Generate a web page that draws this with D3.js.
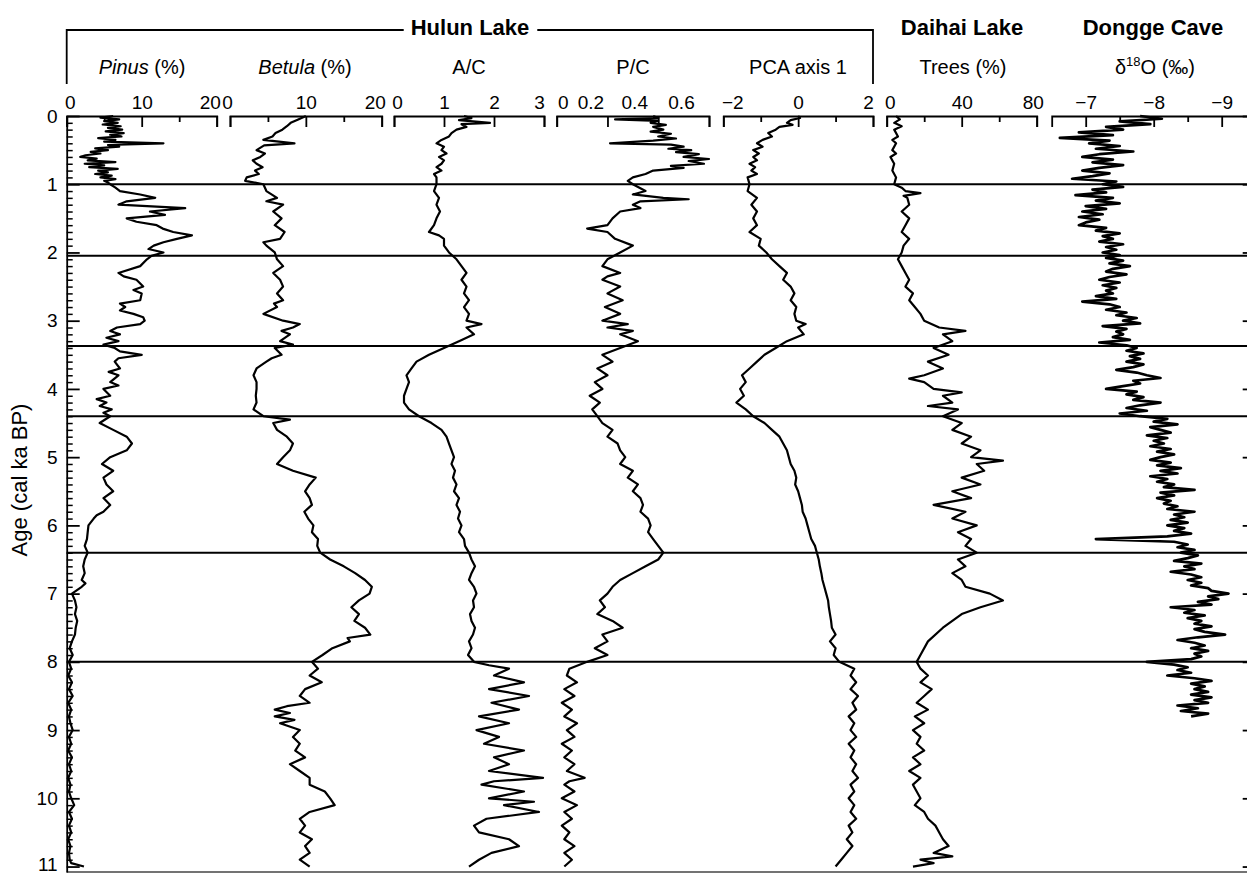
<!DOCTYPE html>
<html>
<head>
<meta charset="utf-8">
<script src="https://cdn.jsdelivr.net/npm/d3@7"></script>
<style>
  body { margin: 0; background: #fff; }
  svg text { font-family: "Liberation Sans", Arial, Helvetica, sans-serif; fill: #000; }
</style>
</head>
<body>
<div id="chart-area"></div>
<script>
// ---- data: [age (cal ka BP), value] ----
const pinus = [[0,6.2],[0.025,4.5],[0.05,7.0],[0.075,5.0],[0.1,6.8],[0.125,4.8],[0.15,7.2],[0.175,5.5],[0.2,7.4],[0.225,5.2],[0.25,7.6],[0.275,5.8],[0.3,7.3],[0.325,4.2],[0.35,6.5],[0.375,5.0],[0.4,12.9],[0.425,5.5],[0.45,7.0],[0.475,3.8],[0.5,5.5],[0.525,3.2],[0.55,4.5],[0.575,2.5],[0.6,1.8],[0.625,4.0],[0.65,2.8],[0.675,6.5],[0.7,2.4],[0.725,5.0],[0.75,3.0],[0.775,6.8],[0.8,4.2],[0.825,5.5],[0.85,3.8],[0.875,6.0],[0.9,4.5],[0.925,6.5],[0.95,5.0],[0.975,5.5],[1.0,5.8],
  [1.05,6.5],[1.1,7.1],[1.15,9.8],[1.2,11.8],[1.25,8.0],[1.3,6.9],[1.35,15.8],[1.4,11.1],[1.45,13.1],[1.5,8.0],[1.55,9.3],[1.6,12.0],[1.65,12.8],[1.7,14.2],[1.75,16.7],[1.8,14.7],[1.85,12.9],[1.9,11.6],[1.95,10.9],[2.0,12.9],[2.05,11.3],[2.1,10.7],[2.2,9.8],[2.3,6.9],[2.35,7.6],[2.4,9.3],[2.5,10.2],[2.55,8.9],[2.6,10.0],[2.7,9.8],[2.75,7.1],[2.8,7.8],[2.85,7.1],[2.9,8.9],[2.95,10.2],[3.0,10.4],[3.05,9.8],[3.1,6.7],[3.15,5.8],[3.2,7.1],[3.25,5.3],[3.3,6.9],[3.35,4.9],[3.4,6.4],[3.45,7.1],[3.5,10.0],[3.55,6.9],[3.6,6.4],[3.7,7.1],[3.75,5.6],[3.8,6.9],[3.9,5.8],[3.95,6.9],[4.0,4.9],[4.1,5.8],[4.15,4.0],[4.2,5.3],[4.25,4.4],[4.3,6.0],[4.35,4.9],[4.4,5.8],[4.5,4.4],[4.6,6.2],[4.7,8.0],[4.8,8.7],[4.9,8.0],[5.0,5.8],[5.1,4.7],[5.2,6.2],[5.3,4.9],[5.4,5.3],[5.5,6.2],[5.6,4.9],[5.7,5.8],[5.8,4.9],[5.85,4.0],[5.9,3.6],[6.0,2.9],[6.1,2.8],[6.2,2.7],[6.3,2.4],[6.4,2.8],[6.5,2.4],[6.6,2.2],[6.7,2.4],[6.8,2.0],[6.85,2.5],[6.9,2.0],[7.0,0.7],[7.1,1.1],[7.2,1.3],[7.3,1.1],[7.4,1.4],[7.5,1.2],[7.6,1.1],[7.7,0.7],[7.8,0.4],[7.9,0.8],[8.0,0.3],[8.1,0.6],[8.2,0.2],[8.3,0.7],[8.4,0.3],[8.5,0.8],[8.6,0.2],[8.7,0.6],[8.8,0.3],[8.9,0.5],[9.0,0.8],[9.1,0.3],[9.2,0.6],[9.3,0.2],[9.4,0.7],[9.5,0.3],[9.6,0.6],[9.7,0.2],[9.8,0.5],[9.9,0.3],[10.0,0.6],[10.1,1.0],[10.2,0.3],[10.3,0.7],[10.4,0.3],[10.5,0.6],[10.6,0.2],[10.7,0.5],[10.8,0.3],[10.9,0.4],[10.95,0.6],[11.0,2.3]];

const betula = [[0,10.0],[0.05,9.0],[0.1,8.0],[0.15,7.5],[0.2,6.9],[0.25,6.0],[0.3,5.6],[0.35,4.4],[0.4,8.5],[0.43,4.5],[0.5,3.5],[0.55,4.6],[0.6,4.0],[0.65,3.0],[0.7,3.5],[0.75,4.3],[0.8,3.3],[0.85,3.8],[0.9,2.2],[0.95,2.0],[1.0,4.4],[1.1,4.8],[1.2,6.2],[1.25,4.8],[1.3,7.0],[1.4,5.7],[1.5,6.8],[1.6,5.9],[1.7,7.2],[1.8,6.6],[1.85,4.4],[1.9,4.8],[2.0,5.9],[2.1,6.2],[2.2,7.0],[2.3,5.7],[2.4,6.6],[2.5,7.0],[2.6,6.2],[2.7,7.0],[2.75,5.8],[2.8,6.2],[2.9,4.4],[3.0,7.0],[3.05,9.2],[3.1,8.3],[3.15,6.8],[3.2,7.9],[3.3,6.6],[3.35,8.3],[3.4,5.9],[3.5,6.8],[3.55,5.5],[3.6,4.8],[3.7,3.5],[3.8,3.1],[3.9,3.5],[4.0,3.5],[4.1,3.4],[4.2,3.5],[4.3,3.1],[4.4,4.4],[4.45,7.9],[4.5,5.7],[4.6,6.2],[4.7,7.5],[4.8,8.3],[4.9,7.9],[5.0,7.0],[5.1,6.2],[5.2,8.3],[5.3,11.3],[5.4,10.5],[5.5,9.9],[5.6,10.5],[5.7,10.8],[5.8,9.8],[5.9,10.3],[6.0,11.0],[6.1,10.8],[6.2,11.6],[6.3,11.5],[6.4,11.9],[6.5,13.2],[6.6,15.0],[6.7,16.5],[6.8,17.8],[6.9,18.7],[7.0,18.4],[7.1,17.0],[7.2,16.0],[7.3,17.0],[7.4,16.4],[7.5,17.8],[7.6,18.5],[7.65,15.5],[7.7,15.8],[7.8,13.5],[7.9,12.2],[8.0,10.8],[8.1,11.6],[8.2,10.5],[8.3,12.1],[8.4,9.9],[8.5,9.2],[8.6,10.5],[8.65,7.5],[8.7,5.9],[8.75,7.9],[8.8,5.9],[8.85,8.5],[8.9,6.6],[9.0,9.2],[9.1,8.3],[9.2,9.2],[9.3,8.6],[9.4,9.9],[9.5,7.9],[9.6,9.2],[9.7,10.5],[9.8,10.5],[9.9,12.5],[10.0,13.2],[10.1,13.8],[10.2,10.5],[10.3,9.2],[10.4,9.9],[10.5,9.2],[10.6,10.8],[10.7,9.9],[10.8,10.5],[10.9,9.2],[11.0,10.5]];

const acRatio = [[0,1.4],[0.03,1.55],[0.06,1.3],[0.1,1.92],[0.12,1.35],[0.16,1.45],[0.2,1.25],[0.25,1.15],[0.3,1.1],[0.35,0.95],[0.4,0.85],[0.45,1.0],[0.5,0.95],[0.55,1.05],[0.6,0.9],[0.65,1.0],[0.7,0.95],[0.75,0.85],[0.8,0.95],[0.85,0.8],[0.9,0.85],[1.0,0.85],[1.1,0.8],[1.2,0.9],[1.3,0.85],[1.4,0.92],[1.5,0.85],[1.6,0.8],[1.7,0.7],[1.75,0.9],[1.8,1.0],[1.9,1.0],[2.0,1.1],[2.1,1.25],[2.2,1.35],[2.3,1.45],[2.4,1.35],[2.5,1.45],[2.6,1.4],[2.7,1.5],[2.8,1.4],[2.9,1.5],[3.0,1.45],[3.05,1.75],[3.1,1.45],[3.2,1.6],[3.3,1.3],[3.4,1.0],[3.5,0.7],[3.6,0.45],[3.7,0.35],[3.8,0.25],[3.9,0.3],[4.0,0.25],[4.1,0.2],[4.2,0.2],[4.3,0.3],[4.4,0.5],[4.5,0.75],[4.6,0.95],[4.7,1.05],[4.8,1.1],[4.9,1.15],[5.0,1.2],[5.1,1.15],[5.2,1.22],[5.3,1.18],[5.4,1.25],[5.5,1.2],[5.6,1.3],[5.7,1.25],[5.8,1.32],[5.9,1.28],[6.0,1.35],[6.1,1.3],[6.2,1.4],[6.3,1.42],[6.4,1.5],[6.5,1.55],[6.6,1.62],[6.7,1.55],[6.8,1.5],[6.9,1.6],[7.0,1.65],[7.1,1.58],[7.2,1.6],[7.3,1.52],[7.4,1.55],[7.5,1.62],[7.6,1.58],[7.7,1.5],[7.8,1.55],[7.9,1.48],[8.0,1.6],[8.05,1.9],[8.1,2.3],[8.2,2.0],[8.3,2.6],[8.4,1.9],[8.5,2.7],[8.6,1.95],[8.7,2.5],[8.8,1.7],[8.9,2.3],[9.0,1.65],[9.1,2.1],[9.2,1.8],[9.3,2.6],[9.4,2.0],[9.5,2.3],[9.6,1.9],[9.7,2.98],[9.75,2.0],[9.8,1.75],[9.9,2.6],[10.0,1.9],[10.05,2.8],[10.1,2.2],[10.2,2.9],[10.3,1.85],[10.4,1.6],[10.5,1.7],[10.6,2.3],[10.7,2.5],[10.8,1.95],[10.9,1.7],[11.0,1.5]];

const pcRatio = [[0,0.38],[0.03,0.4],[0.05,0.23],[0.07,0.4],[0.1,0.37],[0.13,0.43],[0.16,0.38],[0.2,0.42],[0.23,0.37],[0.26,0.45],[0.3,0.4],[0.33,0.47],[0.36,0.38],[0.4,0.21],[0.42,0.45],[0.45,0.5],[0.48,0.44],[0.5,0.53],[0.53,0.47],[0.56,0.56],[0.6,0.5],[0.63,0.6],[0.66,0.52],[0.7,0.58],[0.73,0.45],[0.76,0.5],[0.8,0.38],[0.85,0.35],[0.9,0.3],[0.95,0.28],[1.0,0.3],[1.1,0.35],[1.15,0.3],[1.2,0.42],[1.22,0.52],[1.25,0.33],[1.3,0.3],[1.35,0.33],[1.4,0.25],[1.5,0.22],[1.6,0.2],[1.65,0.12],[1.7,0.2],[1.8,0.23],[1.9,0.3],[2.0,0.25],[2.1,0.2],[2.2,0.18],[2.3,0.25],[2.35,0.2],[2.4,0.18],[2.5,0.25],[2.6,0.2],[2.7,0.26],[2.8,0.19],[2.9,0.25],[3.0,0.18],[3.05,0.28],[3.1,0.2],[3.15,0.3],[3.2,0.25],[3.3,0.32],[3.4,0.25],[3.5,0.18],[3.6,0.22],[3.7,0.16],[3.8,0.2],[3.9,0.15],[4.0,0.18],[4.1,0.13],[4.2,0.17],[4.3,0.14],[4.4,0.16],[4.5,0.18],[4.6,0.22],[4.7,0.2],[4.8,0.24],[4.9,0.25],[5.0,0.27],[5.1,0.25],[5.2,0.3],[5.3,0.28],[5.4,0.32],[5.5,0.3],[5.6,0.33],[5.7,0.34],[5.8,0.33],[5.9,0.36],[6.0,0.37],[6.1,0.36],[6.2,0.38],[6.3,0.4],[6.4,0.42],[6.5,0.4],[6.6,0.35],[6.7,0.3],[6.8,0.25],[6.9,0.22],[7.0,0.2],[7.1,0.17],[7.2,0.19],[7.3,0.16],[7.4,0.22],[7.5,0.26],[7.6,0.18],[7.7,0.2],[7.8,0.15],[7.9,0.2],[8.0,0.12],[8.1,0.05],[8.2,0.04],[8.3,0.08],[8.4,0.03],[8.5,0.07],[8.6,0.02],[8.7,0.06],[8.8,0.03],[8.9,0.08],[9.0,0.04],[9.1,0.07],[9.2,0.02],[9.3,0.06],[9.4,0.03],[9.5,0.07],[9.6,0.04],[9.7,0.11],[9.75,0.05],[9.8,0.03],[9.9,0.07],[10.0,0.02],[10.1,0.08],[10.2,0.03],[10.3,0.06],[10.4,0.02],[10.5,0.05],[10.6,0.03],[10.7,0.07],[10.8,0.03],[10.9,0.06],[11.0,0.03]];

const pcaAxis1 = [[0,0.0],[0.03,0.05],[0.06,-0.2],[0.1,-0.3],[0.13,-0.15],[0.16,-0.5],[0.2,-0.6],[0.25,-0.8],[0.3,-0.7],[0.35,-0.95],[0.4,-1.1],[0.45,-0.95],[0.5,-1.2],[0.55,-1.05],[0.6,-1.2],[0.65,-1.1],[0.7,-1.3],[0.75,-1.15],[0.8,-1.25],[0.85,-1.1],[0.9,-1.35],[1.0,-1.3],[1.1,-1.35],[1.2,-1.1],[1.3,-1.25],[1.4,-1.1],[1.5,-1.2],[1.6,-1.1],[1.7,-1.3],[1.8,-1.0],[1.9,-1.05],[2.0,-0.85],[2.1,-0.7],[2.2,-0.5],[2.3,-0.3],[2.4,-0.4],[2.5,-0.2],[2.6,-0.1],[2.7,-0.2],[2.8,-0.05],[2.9,-0.1],[3.0,-0.05],[3.05,0.2],[3.1,0.0],[3.2,0.15],[3.3,-0.3],[3.4,-0.6],[3.5,-0.9],[3.6,-1.1],[3.7,-1.3],[3.8,-1.5],[3.9,-1.4],[4.0,-1.55],[4.1,-1.45],[4.2,-1.65],[4.3,-1.4],[4.4,-1.2],[4.5,-0.9],[4.6,-0.7],[4.7,-0.5],[4.8,-0.4],[4.9,-0.3],[5.0,-0.25],[5.1,-0.2],[5.2,-0.1],[5.3,-0.05],[5.4,-0.08],[5.5,0.0],[5.6,0.05],[5.7,0.1],[5.8,0.12],[5.9,0.2],[6.0,0.25],[6.1,0.3],[6.2,0.35],[6.3,0.45],[6.4,0.5],[6.5,0.55],[6.6,0.58],[6.7,0.62],[6.8,0.65],[6.9,0.7],[7.0,0.75],[7.1,0.8],[7.2,0.82],[7.3,0.85],[7.4,0.88],[7.5,0.9],[7.6,1.0],[7.7,0.85],[7.8,1.0],[7.9,0.95],[8.0,1.1],[8.1,1.5],[8.2,1.4],[8.3,1.55],[8.4,1.4],[8.5,1.6],[8.6,1.45],[8.7,1.55],[8.8,1.35],[8.9,1.5],[9.0,1.4],[9.1,1.55],[9.2,1.35],[9.3,1.5],[9.4,1.4],[9.5,1.55],[9.6,1.45],[9.7,1.6],[9.8,1.4],[9.9,1.5],[10.0,1.35],[10.1,1.5],[10.2,1.4],[10.3,1.55],[10.4,1.35],[10.5,1.45],[10.6,1.3],[10.7,1.45],[10.8,1.3],[10.9,1.15],[11.0,1.0]];

const daihaiTrees = [[0,5],[0.05,7],[0.1,4],[0.15,8],[0.2,4],[0.3,6],[0.35,3],[0.4,5],[0.5,3],[0.55,5],[0.6,2],[0.7,4],[0.8,3],[0.9,5],[1.0,4],[1.05,8],[1.1,10],[1.13,18],[1.17,9],[1.2,11],[1.3,12],[1.4,8],[1.5,12],[1.6,10],[1.7,8],[1.8,12],[1.9,9],[2.0,8],[2.1,6],[2.2,8],[2.3,10],[2.4,12],[2.5,10],[2.6,14],[2.7,12],[2.8,15],[2.9,18],[3.0,20],[3.1,28],[3.15,42],[3.2,30],[3.3,35],[3.4,25],[3.5,33],[3.6,22],[3.7,30],[3.8,20],[3.85,12],[3.9,20],[4.0,25],[4.05,40],[4.1,30],[4.2,35],[4.25,22],[4.3,38],[4.4,30],[4.5,40],[4.6,35],[4.7,45],[4.8,40],[4.9,50],[5.0,45],[5.05,62],[5.1,48],[5.2,52],[5.3,40],[5.4,50],[5.5,35],[5.6,45],[5.7,25],[5.8,42],[5.9,35],[6.0,48],[6.1,38],[6.2,45],[6.3,42],[6.4,48],[6.5,38],[6.6,42],[6.7,35],[6.8,40],[6.9,42],[7.0,55],[7.1,62],[7.2,50],[7.3,40],[7.5,30],[7.7,22],[7.9,18],[8.0,16],[8.1,18],[8.2,22],[8.3,18],[8.4,24],[8.5,20],[8.6,16],[8.7,22],[8.8,15],[8.9,20],[9.0,14],[9.1,18],[9.2,16],[9.3,20],[9.4,14],[9.5,18],[9.6,12],[9.7,18],[9.8,14],[9.9,16],[10.0,18],[10.1,15],[10.2,20],[10.3,22],[10.4,26],[10.5,28],[10.6,30],[10.7,33],[10.8,25],[10.85,35],[10.9,18],[10.95,25],[11.0,14]];

// Dongge Cave d18O, one value every 0.04 ka from 0 to 8.8 ka
const donggeStep = 0.04;
const donggeD18O = [
  -7.8,-8.12,-7.5,-7.95,-7.3,-7.55,-6.9,-7.4,-6.62,-7.35,
  -7.05,-7.5,-7.15,-7.7,-7.2,-6.95,-7.4,-7.1,-7.55,-7.2,
  -6.95,-7.35,-7.1,-6.8,-7.45,-7.25,-7.55,-7.1,-7.3,-6.85,
  -7.4,-7.15,-7.5,-7.0,-7.3,-6.95,-7.25,-6.9,-7.2,-7.0,
  -6.9,-7.3,-7.15,-7.5,-7.25,-7.4,-7.2,-7.55,-7.3,-7.45,
  -7.25,-7.5,-7.3,-7.55,-7.35,-7.65,-7.4,-7.3,-7.6,-7.35,
  -7.2,-7.5,-7.25,-7.45,-7.3,-7.4,-7.15,-7.45,-6.95,-7.35,
  -7.5,-7.3,-7.6,-7.45,-7.75,-7.55,-7.8,-7.25,-7.6,-7.45,
  -7.55,-7.4,-7.65,-7.2,-7.6,-7.75,-7.6,-7.85,-7.65,-7.8,
  -7.6,-7.85,-7.7,-7.45,-7.75,-7.9,-8.1,-7.7,-7.8,-7.55,
  -7.3,-7.75,-7.6,-7.85,-7.7,-8.1,-7.8,-7.6,-7.9,-7.5,
  -7.8,-8.2,-8.0,-8.35,-7.95,-8.1,-8.25,-7.9,-8.2,-8.0,
  -8.15,-7.95,-8.25,-8.05,-8.3,-8.1,-7.95,-8.25,-8.05,-8.4,
  -8.1,-8.35,-7.95,-8.2,-8.05,-8.3,-8.15,-8.6,-8.1,-8.3,
  -8.05,-8.25,-8.15,-8.35,-8.2,-8.6,-8.3,-8.45,-8.25,-8.5,
  -8.2,-8.45,-8.3,-8.55,-8.2,-7.15,-8.3,-8.5,-8.35,-8.6,
  -8.4,-8.65,-8.5,-8.3,-8.7,-8.45,-8.6,-8.25,-8.55,-8.7,
  -8.5,-8.7,-8.55,-8.8,-8.85,-9.1,-8.8,-8.95,-8.65,-8.85,
  -8.25,-8.6,-8.45,-8.75,-8.5,-8.7,-8.6,-8.85,-8.6,-8.75,
  -9.05,-8.65,-8.35,-8.6,-8.75,-8.55,-8.8,-8.6,-8.7,-8.55,
  -7.9,-8.3,-8.5,-8.35,-8.55,-8.2,-8.6,-8.85,-8.55,-8.75,
  -8.6,-8.8,-8.55,-8.85,-8.6,-8.8,-8.35,-8.65,-8.4,-8.8,
  -8.55
];

// horizontal marker lines (ka)
const eventAges = [1.0, 2.05, 3.37, 4.4, 6.4, 8.0];
const ageTicks = [0, 1, 2, 3, 4, 5, 6, 7, 8, 9, 10, 11];

const pinusTicks = [0, 10, 20], pinusMinor = [5, 15];
const betulaTicks = [0, 10, 20], betulaMinor = [5, 15];
const acTicks = [0, 1, 2, 3];
const pcTicks = [0, 0.2, 0.4, 0.6];
const pcaTicks = [-2, 0, 2], pcaMinor = [-1, 1];
const treesTicks = [0, 40, 80], treesMinor = [20, 60];
const d18OTicks = [-7, -8, -9], d18OMinor = [-7.5, -8.5];

const width = 1247, height = 874;
const svg = d3.select("#chart-area").append("svg")
    .attr("width", width)
    .attr("height", height);

const y = d3.scaleLinear().domain([0, 11.08]).range([116, 872]);
const axisTop = 116;
const rightEdge = 1255.7;

const panels = [
    {name: "pinus", data: pinus, domain: [0, 20], range: [66.7, 216.7], ticks: pinusTicks, minor: pinusMinor, nudge: [3, 0, -7]},
    {name: "betula", data: betula, domain: [0, 20], range: [230, 381.7], ticks: betulaTicks, minor: betulaMinor, nudge: [-3, 0, -7]},
    {name: "ac", data: acRatio, domain: [0, 3], range: [394, 544], ticks: acTicks, minor: [], nudge: [3, 0, 0, -5]},
    {name: "pc", data: pcRatio, domain: [0, 0.6], range: [556.7, 709], ticks: pcTicks, minor: [], nudge: [6, -17, -24, -28]},
    {name: "pca", data: pcaAxis1, domain: [-2, 2], range: [723.3, 873], ticks: pcaTicks, minor: pcaMinor, nudge: [9, 0, -5]},
    {name: "trees", data: daihaiTrees, domain: [0, 80], range: [886.7, 1036.7], ticks: treesTicks, minor: treesMinor, nudge: [3, 0, -4]},
    {name: "d18o", data: donggeD18O.map((v, i) => [i * donggeStep, v]), domain: [-6.5, -9.5], range: [1051.7, rightEdge], ticks: d18OTicks, minor: d18OMinor, nudge: [0, 0, 0]}
];

const fmt = (d) => {
    if (d === 0) return "0";
    return (d < 0 ? "\u2212" : "") + String(Math.abs(d));
};

// event lines
svg.append("g")
    .selectAll("line")
    .data(eventAges)
    .enter().append("line")
        .attr("x1", 66.7)
        .attr("x2", rightEdge)
        .attr("y1", (d) => y(d))
        .attr("y2", (d) => y(d))
        .attr("stroke", "#000")
        .attr("stroke-width", 2);

// bottom frame
svg.append("line")
    .attr("x1", 66.7).attr("x2", rightEdge)
    .attr("y1", 872).attr("y2", 872)
    .attr("stroke", "#444").attr("stroke-width", 1.5);

panels.forEach((p) => {
    const x = d3.scaleLinear().domain(p.domain).range(p.range);

    const g = svg.append("g")
        .attr("class", "top axis " + p.name)
        .attr("transform", "translate(0," + axisTop + ")")
        .call(d3.axisTop(x)
            .tickValues(p.ticks)
            .tickSizeInner(-11)
            .tickSizeOuter(-11)
            .tickPadding(7)
            .tickFormat(fmt));
    g.select(".domain").attr("stroke-width", 1.8);
    g.selectAll(".tick line").attr("stroke-width", 1.8);
    g.selectAll(".tick text")
        .attr("font-size", "19px")
        .attr("font-family", null)
        .attr("dx", (d, i) => p.nudge[i] || 0);

    if (p.minor.length) {
        const m = svg.append("g")
            .attr("transform", "translate(0," + axisTop + ")")
            .call(d3.axisTop(x).tickValues(p.minor).tickSize(-6).tickFormat(""));
        m.select(".domain").remove();
        m.selectAll(".tick line").attr("stroke-width", 1.8);
    }

    const line = d3.line()
        .x((d) => x(d[1]))
        .y((d) => y(d[0]));

    svg.append("path")
        .datum(p.data)
        .attr("fill", "none")
        .attr("stroke", "#000")
        .attr("stroke-width", p.name === "d18o" ? 2.7 : 2.2)
        .attr("stroke-linejoin", "round")
        .attr("d", line);
});

// left age axis
const left = svg.append("g")
    .attr("transform", "translate(66.7,0)")
    .call(d3.axisLeft(y).tickValues(ageTicks).tickSizeInner(-13).tickSizeOuter(0).tickPadding(9));
left.select(".domain").attr("stroke-width", 1.8);
left.selectAll(".tick line").attr("stroke-width", 1.8);
left.selectAll(".tick text").attr("font-size", "19px").attr("font-family", null)
    .attr("dy", (d) => d === 11 ? "0.2em" : "0.32em");

const minorAges = d3.range(0, 111).map((i) => i / 10).filter((a) => Math.abs(a - Math.round(a)) > 0.01);
const leftMinor = svg.append("g")
    .attr("transform", "translate(66.7,0)")
    .call(d3.axisLeft(y).tickValues(minorAges).tickSize(-6).tickFormat(""));
leftMinor.select(".domain").remove();
leftMinor.selectAll(".tick line").attr("stroke-width", 1.5);

// right age axis (ticks only)
const right = svg.append("g")
    .attr("transform", "translate(" + rightEdge + ",0)")
    .call(d3.axisRight(y).tickValues(ageTicks).tickSizeInner(-13).tickSizeOuter(0).tickFormat(""));
right.select(".domain").attr("stroke-width", 1.8);
right.selectAll(".tick line").attr("stroke-width", 1.8);

svg.append("text")
    .attr("transform", "rotate(-90)")
    .attr("x", -480)
    .attr("y", 27)
    .attr("font-size", "22px")
    .attr("text-anchor", "middle")
    .text("Age (cal ka BP)");

// panel titles
const sub = svg.append("g").attr("font-size", "20px").attr("text-anchor", "middle");
const t1 = sub.append("text").attr("x", 142).attr("y", 74);
t1.append("tspan").attr("font-style", "italic").text("Pinus");
t1.append("tspan").text(" (%)");
const t2 = sub.append("text").attr("x", 305).attr("y", 74);
t2.append("tspan").attr("font-style", "italic").text("Betula");
t2.append("tspan").text(" (%)");
sub.append("text").attr("x", 469).attr("y", 74).text("A/C");
sub.append("text").attr("x", 633).attr("y", 74).text("P/C");
sub.append("text").attr("x", 798).attr("y", 74).text("PCA axis 1");
sub.append("text").attr("x", 963).attr("y", 74).text("Trees (%)");
const t7 = sub.append("text").attr("x", 1155).attr("y", 74);
t7.append("tspan").text("\u03b4");
t7.append("tspan").attr("font-size", "13px").attr("dy", -8).text("18");
t7.append("tspan").attr("dy", 8).text("O (\u2030)");

// site headers
const hulun = svg.append("text")
    .attr("x", 470).attr("y", 35)
    .attr("font-size", "22px").attr("font-weight", "bold")
    .attr("text-anchor", "middle")
    .text("Hulun Lake");
svg.append("text")
    .attr("x", 962).attr("y", 35)
    .attr("font-size", "22px").attr("font-weight", "bold")
    .attr("text-anchor", "middle")
    .text("Daihai Lake");
svg.append("text")
    .attr("x", 1153).attr("y", 35)
    .attr("font-size", "22px").attr("font-weight", "bold")
    .attr("text-anchor", "middle")
    .text("Dongge Cave");

const hw = hulun.node().getComputedTextLength();
const bracketY = 30;
svg.append("path")
    .attr("d", "M66.7,84V" + bracketY + "H" + (470 - hw / 2 - 7))
    .attr("fill", "none").attr("stroke", "#000").attr("stroke-width", 1.8);
svg.append("path")
    .attr("d", "M" + (470 + hw / 2 + 8) + "," + bracketY + "H873V84")
    .attr("fill", "none").attr("stroke", "#000").attr("stroke-width", 1.8);
</script>
</body>
</html>
